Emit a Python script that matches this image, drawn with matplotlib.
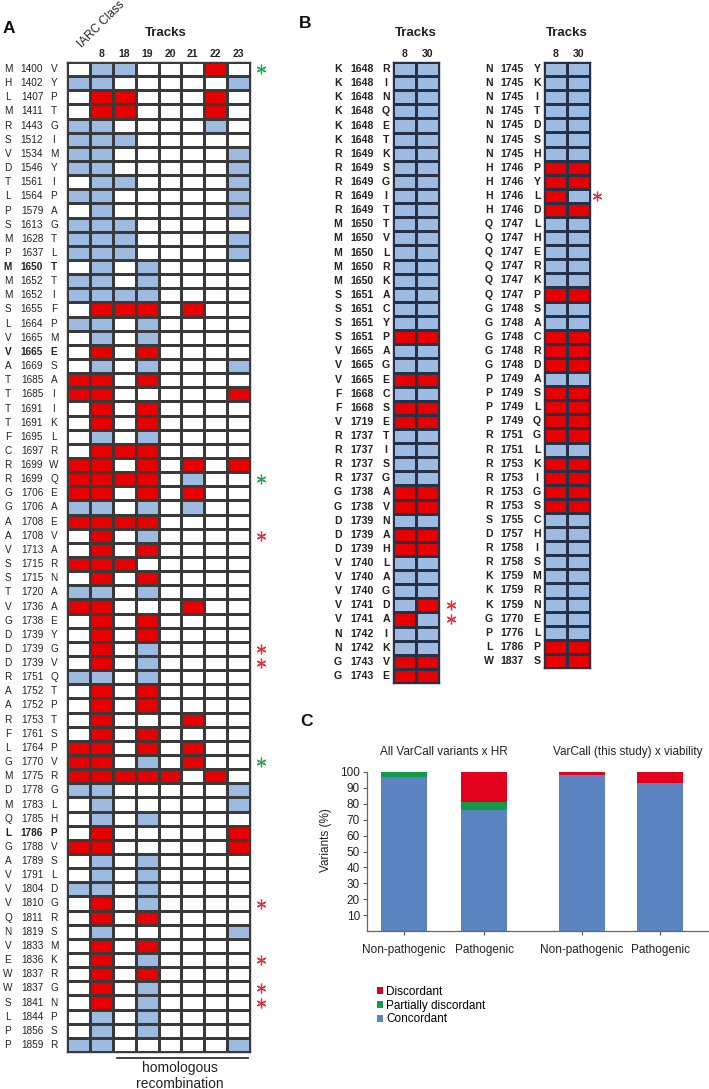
import numpy as np
import matplotlib.pyplot as plt
from matplotlib.colors import ListedColormap

plt.rcParams['font.family'] = ['Liberation Sans', 'DejaVu Sans']

# ---- data: panel A (0 = blank, 1 = concordant/blue, 2 = red) ----
a_columns = ["8", "18", "19", "20", "21", "22", "23"]
a_variants = [
    "M 1400 V", "H 1402 Y", "L 1407 P", "M 1411 T", "R 1443 G", "S 1512 I",
    "V 1534 M", "D 1546 Y", "T 1561 I", "L 1564 P", "P 1579 A", "S 1613 G",
    "M 1628 T", "P 1637 L", "M 1650 T", "M 1652 T", "M 1652 I", "S 1655 F",
    "L 1664 P", "V 1665 M", "V 1665 E", "A 1669 S", "T 1685 A", "T 1685 I",
    "T 1691 I", "T 1691 K", "F 1695 L", "C 1697 R", "R 1699 W", "R 1699 Q",
    "G 1706 E", "G 1706 A", "A 1708 E", "A 1708 V", "V 1713 A", "S 1715 R",
    "S 1715 N", "T 1720 A", "V 1736 A", "G 1738 E", "D 1739 Y", "D 1739 G",
    "D 1739 V", "R 1751 Q", "A 1752 T", "A 1752 P", "R 1753 T", "F 1761 S",
    "L 1764 P", "G 1770 V", "M 1775 R", "D 1778 G", "M 1783 L", "Q 1785 H",
    "L 1786 P", "G 1788 V", "A 1789 S", "V 1791 L", "V 1804 D", "V 1810 G",
    "Q 1811 R", "N 1819 S", "V 1833 M", "E 1836 K", "W 1837 R", "W 1837 G",
    "S 1841 N", "L 1844 P", "P 1856 S", "P 1859 R",
]
a_bold = ["M 1650 T", "V 1665 E", "L 1786 P"]
# columns: IARC class, track 8, 18, 19, 20, 21, 22, 23
a_cells = [
    [0, 1, 1, 0, 0, 0, 2, 0], [1, 1, 0, 0, 0, 0, 0, 1], [0, 2, 2, 0, 0, 0, 2, 0],
    [0, 2, 2, 0, 0, 0, 2, 0], [1, 1, 0, 0, 0, 0, 1, 0], [1, 1, 1, 0, 0, 0, 0, 0],
    [1, 1, 0, 0, 0, 0, 0, 1], [1, 1, 0, 0, 0, 0, 0, 1], [0, 1, 1, 0, 0, 0, 0, 1],
    [1, 1, 0, 0, 0, 0, 0, 1], [0, 1, 0, 0, 0, 0, 0, 1], [1, 1, 1, 0, 0, 0, 0, 0],
    [1, 1, 1, 0, 0, 0, 0, 1], [1, 1, 1, 0, 0, 0, 0, 1], [0, 1, 0, 1, 0, 0, 0, 0],
    [1, 1, 0, 1, 0, 0, 0, 0], [1, 1, 1, 1, 0, 0, 0, 0], [0, 2, 2, 2, 0, 2, 0, 0],
    [1, 1, 0, 1, 0, 0, 0, 0], [0, 1, 0, 1, 0, 0, 0, 0], [0, 2, 0, 2, 0, 0, 0, 0],
    [0, 1, 0, 1, 0, 0, 0, 1], [2, 2, 0, 2, 0, 0, 0, 0], [2, 2, 0, 0, 0, 0, 0, 2],
    [0, 2, 0, 2, 0, 0, 0, 0], [0, 2, 0, 2, 0, 0, 0, 0], [0, 1, 0, 1, 0, 0, 0, 0],
    [0, 2, 2, 2, 0, 0, 0, 0], [2, 2, 0, 2, 0, 2, 0, 2], [2, 2, 2, 2, 0, 1, 0, 0],
    [2, 2, 0, 2, 0, 2, 0, 0], [1, 1, 0, 1, 0, 1, 0, 0], [2, 2, 2, 2, 0, 0, 0, 0],
    [0, 2, 0, 1, 0, 0, 0, 0], [0, 2, 0, 2, 0, 0, 0, 0], [2, 2, 2, 0, 0, 0, 0, 0],
    [0, 2, 0, 2, 0, 0, 0, 0], [1, 1, 0, 1, 0, 0, 0, 0], [2, 2, 0, 0, 0, 2, 0, 0],
    [0, 2, 0, 2, 0, 0, 0, 0], [0, 2, 0, 2, 0, 0, 0, 0], [0, 2, 0, 1, 0, 0, 0, 0],
    [0, 2, 0, 1, 0, 0, 0, 0], [1, 1, 0, 1, 0, 0, 0, 0], [0, 2, 0, 2, 0, 0, 0, 0],
    [0, 2, 0, 2, 0, 0, 0, 0], [0, 2, 0, 0, 0, 2, 0, 0], [0, 2, 0, 2, 0, 0, 0, 0],
    [2, 2, 0, 2, 0, 2, 0, 0], [2, 2, 0, 1, 0, 2, 0, 0], [2, 2, 2, 2, 2, 0, 2, 0],
    [1, 1, 0, 0, 0, 0, 0, 1], [0, 1, 0, 0, 0, 0, 0, 1], [0, 1, 0, 1, 0, 0, 0, 0],
    [0, 2, 0, 0, 0, 0, 0, 2], [2, 2, 0, 0, 0, 0, 0, 2], [0, 1, 0, 1, 0, 0, 0, 0],
    [0, 1, 0, 1, 0, 0, 0, 0], [1, 1, 0, 1, 0, 0, 0, 0], [0, 2, 0, 1, 0, 0, 0, 0],
    [0, 2, 0, 2, 0, 0, 0, 0], [0, 1, 0, 0, 0, 0, 0, 1], [0, 2, 0, 2, 0, 0, 0, 0],
    [0, 2, 0, 1, 0, 0, 0, 0], [0, 2, 0, 2, 0, 0, 0, 0], [0, 2, 0, 1, 0, 0, 0, 0],
    [0, 2, 0, 1, 0, 0, 0, 0], [0, 1, 0, 1, 0, 0, 0, 0], [0, 1, 0, 1, 0, 0, 0, 0],
    [1, 1, 0, 0, 0, 0, 0, 1],
]
a_green_stars = ["M 1400 V", "R 1699 Q", "G 1770 V"]
a_red_stars = ["A 1708 V", "D 1739 G", "D 1739 V", "V 1810 G", "E 1836 K",
               "W 1837 G", "S 1841 N"]

# ---- data: panel B ----
b_columns = ["8", "30"]
b1_variants = [
    "K 1648 R", "K 1648 I", "K 1648 N", "K 1648 Q", "K 1648 E", "K 1648 T",
    "R 1649 K", "R 1649 S", "R 1649 G", "R 1649 I", "R 1649 T", "M 1650 T",
    "M 1650 V", "M 1650 L", "M 1650 R", "M 1650 K", "S 1651 A", "S 1651 C",
    "S 1651 Y", "S 1651 P", "V 1665 A", "V 1665 G", "V 1665 E", "F 1668 C",
    "F 1668 S", "V 1719 E", "R 1737 T", "R 1737 I", "R 1737 S", "R 1737 G",
    "G 1738 A", "G 1738 V", "D 1739 N", "D 1739 A", "D 1739 H", "V 1740 L",
    "V 1740 A", "V 1740 G", "V 1741 D", "V 1741 A", "N 1742 I", "N 1742 K",
    "G 1743 V", "G 1743 E",
]
b1_track8 = [1, 1, 1, 1, 1, 1, 1, 1, 1, 1, 1, 1, 1, 1, 1, 1, 1, 1, 1, 2, 1, 1,
             2, 1, 2, 2, 1, 1, 1, 1, 2, 2, 1, 2, 2, 1, 1, 1, 1, 2, 1, 1, 2, 2]
b1_track30 = [1, 1, 1, 1, 1, 1, 1, 1, 1, 1, 1, 1, 1, 1, 1, 1, 1, 1, 1, 2, 1, 1,
              2, 1, 2, 2, 1, 1, 1, 1, 2, 2, 1, 2, 2, 1, 1, 1, 2, 1, 1, 1, 2, 2]
b1_red_stars = ["V 1741 D", "V 1741 A"]

b2_variants = [
    "N 1745 Y", "N 1745 K", "N 1745 I", "N 1745 T", "N 1745 D", "N 1745 S",
    "N 1745 H", "H 1746 P", "H 1746 Y", "H 1746 L", "H 1746 D", "Q 1747 L",
    "Q 1747 H", "Q 1747 E", "Q 1747 R", "Q 1747 K", "Q 1747 P", "G 1748 S",
    "G 1748 A", "G 1748 C", "G 1748 R", "G 1748 D", "P 1749 A", "P 1749 S",
    "P 1749 L", "P 1749 Q", "R 1751 G", "R 1751 L", "R 1753 K", "R 1753 I",
    "R 1753 G", "R 1753 S", "S 1755 C", "D 1757 H", "R 1758 I", "R 1758 S",
    "K 1759 M", "K 1759 R", "K 1759 N", "G 1770 E", "P 1776 L", "L 1786 P",
    "W 1837 S",
]
b2_track8 = [1, 1, 1, 1, 1, 1, 1, 2, 2, 2, 2, 1, 1, 1, 1, 1, 2, 1, 1, 2, 2, 2,
             1, 2, 2, 2, 2, 1, 2, 2, 2, 2, 1, 1, 1, 1, 1, 1, 1, 1, 1, 2, 2]
b2_track30 = [1, 1, 1, 1, 1, 1, 1, 2, 2, 1, 2, 1, 1, 1, 1, 1, 2, 1, 1, 2, 2, 2,
              1, 2, 2, 2, 2, 1, 2, 2, 2, 2, 1, 1, 1, 1, 1, 1, 1, 1, 1, 2, 2]
b2_red_stars = ["H 1746 L"]

# ---- data: panel C (percent of variants) ----
c_groups = ["All VarCall variants x HR", "VarCall (this study) x viability"]
c_categories = ["Non-pathogenic", "Pathogenic", "Non-pathogenic", "Pathogenic"]
c_concordant = [97, 76, 98, 93]
c_partial = [3, 5, 0, 0]
c_discordant = [0, 19, 2, 7]

# ---- styling ----
W, H = 709, 1089
fig = plt.figure(figsize=(W / 100, H / 100), dpi=100)
BLUE, RED = '#9DBBE0', '#E60000'
cmap = ListedColormap(['white', BLUE, RED])
STAR_RED, STAR_GREEN = '#E0303A', '#2EA055'
TXT = '#222222'


def px_axes(left, top, right, bottom):
    return fig.add_axes([left / W, 1 - bottom / H, (right - left) / W, (bottom - top) / H])


def heat(ax, cells, edge):
    cells = np.asarray(cells)
    nr, nc = cells.shape
    ax.pcolormesh(np.arange(nc + 1), np.arange(nr + 1), cells, cmap=cmap,
                  vmin=-0.5, vmax=2.5, edgecolors=edge, linewidth=0.8)
    ax.set_xlim(0, nc)
    ax.set_ylim(nr, 0)
    ax.set_xticks([])
    ax.set_yticks([])
    for s in ax.spines.values():
        s.set_color(edge)
        s.set_linewidth(1)


def row_labels(ax, variants, xs, size, bold_all=False, bold=()):
    for i, v in enumerate(variants):
        w = 'bold' if (bold_all or v in bold) else 'normal'
        for txt, x in zip(v.split(), xs):
            ax.text(x, i + 0.5, txt, ha='center', va='center', fontsize=size,
                    fontweight=w, color=TXT, clip_on=False)


def stars(ax, variants, marked, x, color):
    rows = [variants.index(v) + 0.5 for v in marked]
    ax.plot([x] * len(rows), rows, linestyle='none', marker=(6, 2, 0),
            ms=7, mew=0.9, color=color, clip_on=False)


# ---- panel A ----
axA = px_axes(67, 62, 250, 1052)
heat(axA, a_cells, '#3a3a3a')
row_labels(axA, a_variants, [-2.58, -1.53, -0.57], 7.2, bold=a_bold)
for j, c in enumerate(a_columns):
    axA.text(j + 1.5, -0.6, c, ha='center', va='center', fontsize=7.5,
             fontweight='bold', color=TXT)
axA.text(4.3, -2.05, "Tracks", ha='center', va='center', fontsize=9.5,
         fontweight='bold', color=TXT)
axA.text(0.75, -0.85, "IARC Class", rotation=45, rotation_mode='anchor',
         ha='left', va='bottom', fontsize=8.5, color=TXT)
axA.text(-2.55, -2.4, "A", ha='center', va='center', fontsize=12.5,
         fontweight='bold', color='#111111')
stars(axA, a_variants, a_green_stars, 8.5, STAR_GREEN)
stars(axA, a_variants, a_red_stars, 8.5, STAR_RED)
axA.plot([2.18, 7.9], [70.42, 70.42], color=TXT, lw=1.2, clip_on=False)
axA.text(4.93, 71.15, "homologous", ha='center', va='center', fontsize=10,
         color=TXT)
axA.text(4.93, 72.25, "recombination", ha='center', va='center', fontsize=10,
         color=TXT)

# ---- panel B ----
axB1 = px_axes(393, 62, 439, 683)
heat(axB1, np.column_stack([b1_track8, b1_track30]), '#263046')
row_labels(axB1, b1_variants, [-2.39, -1.35, -0.30], 7.6, bold_all=True)
stars(axB1, b1_variants, b1_red_stars, 2.52, STAR_RED)
axB1.text(-3.8, -2.75, "B", ha='center', va='center', fontsize=12.5,
          fontweight='bold', color='#111111')

axB2 = px_axes(544, 62, 590, 668)
heat(axB2, np.column_stack([b2_track8, b2_track30]), '#263046')
row_labels(axB2, b2_variants, [-2.39, -1.39, -0.30], 7.6, bold_all=True)
stars(axB2, b2_variants, b2_red_stars, 2.3, STAR_RED)

for ax in (axB1, axB2):
    for j, c in enumerate(b_columns):
        ax.text(j + 0.5, -0.6, c, ha='center', va='center', fontsize=7.5,
                fontweight='bold', color=TXT)
    ax.text(1.0, -2.05, "Tracks", ha='center', va='center', fontsize=9.5,
            fontweight='bold', color=TXT)

# ---- panel C ----
axC = px_axes(367, 772, 709, 931)
xpos = np.array([0, 1, 2.22, 3.2])
bw = 0.575
conc = np.array(c_concordant, float)
part = np.array(c_partial, float)
disc = np.array(c_discordant, float)
axC.bar(xpos, conc, bw, color='#5B84C0', label='Concordant')
axC.bar(xpos, part, bw, bottom=conc, color='#119A48', label='Partially discordant')
axC.bar(xpos, disc, bw, bottom=conc + part, color='#E1001E', label='Discordant')
axC.set_xlim(-0.4625, 3.8125)
axC.set_ylim(0, 100)
axC.set_yticks(range(10, 101, 10))
axC.set_xticks(xpos)
axC.set_xticklabels(c_categories)
axC.tick_params(axis='both', labelsize=8.5, colors='#555555', labelcolor=TXT,
                length=3, width=0.8, pad=2)
axC.tick_params(axis='x', pad=6)
for s in ('top', 'right'):
    axC.spines[s].set_visible(False)
for s in ('left', 'bottom'):
    axC.spines[s].set_color('#666666')
    axC.spines[s].set_linewidth(0.9)
axC.set_ylabel("Variants (%)", fontsize=8.5, color=TXT)
axC.yaxis.set_label_coords(-0.102, 0.57)
axC.text(0.5, 112.6, c_groups[0], ha='center', va='center', fontsize=8.5, color=TXT)
axC.text(2.8, 112.6, c_groups[1], ha='center', va='center', fontsize=8.5, color=TXT)
axC.text(-1.22, 132, "C", ha='center', va='center', fontsize=12.5,
         fontweight='bold', color='#111111', clip_on=False)
handles, labels = axC.get_legend_handles_labels()
axC.legend(handles[::-1], labels[::-1], loc='upper left',
           bbox_to_anchor=(371 / W, 1 - 980 / H), bbox_transform=fig.transFigure,
           frameon=False, fontsize=8.5, handlelength=0.5, handleheight=0.5,
           handletextpad=0.3, labelspacing=0.15, borderpad=0)

fig.savefig("out.png", dpi=100)
plt.close(fig)
